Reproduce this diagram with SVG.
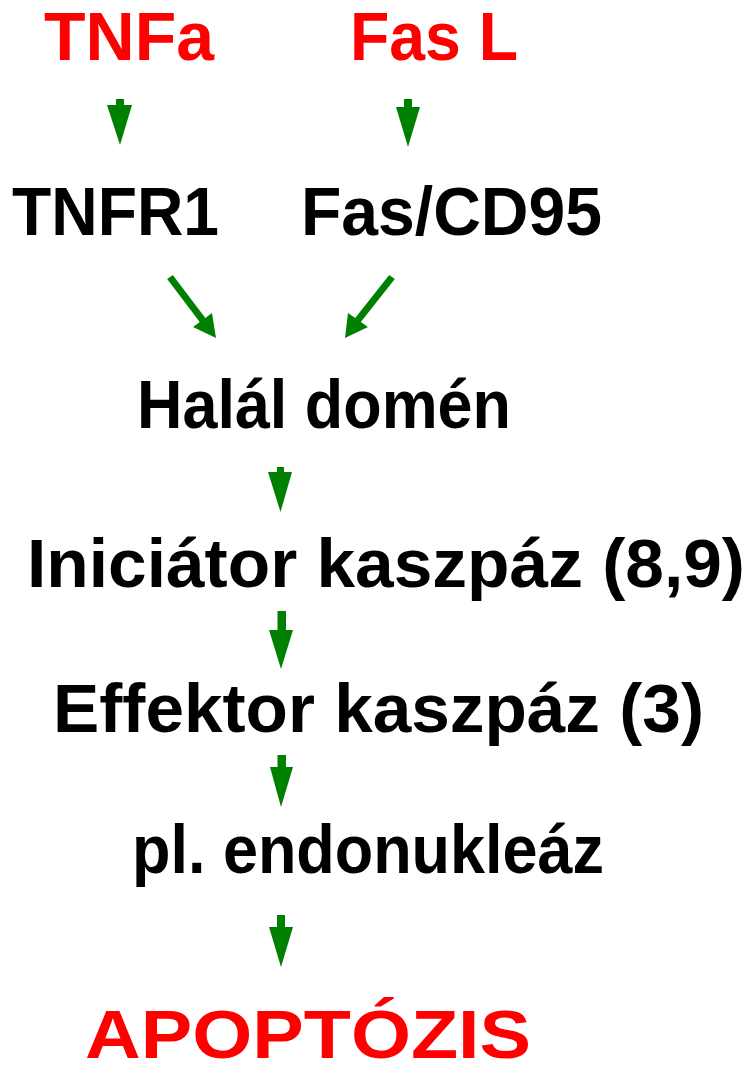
<svg xmlns="http://www.w3.org/2000/svg" width="748" height="1065" viewBox="0 0 748 1065">
<style>
text{font-family:"Liberation Sans","DejaVu Sans",Arial,sans-serif;font-weight:bold;font-size:68px;fill:#000}
.red{fill:#ff0000}
.arr{fill:#008000;stroke:none}
</style>
<rect width="748" height="1065" fill="#ffffff"/>
<g id="node-tnfa"><text class="red" x="44" y="60" textLength="170" lengthAdjust="spacingAndGlyphs">TNFa</text></g>
<g id="node-fasl"><text class="red" x="350" y="60" textLength="168" lengthAdjust="spacingAndGlyphs">Fas L</text></g>
<g id="node-tnfr1"><text x="12" y="235" textLength="207" lengthAdjust="spacingAndGlyphs">TNFR1</text></g>
<g id="node-fascd95"><text x="301" y="235" textLength="301" lengthAdjust="spacingAndGlyphs">Fas/CD95</text></g>
<g id="node-halal"><text x="137" y="428" textLength="374" lengthAdjust="spacingAndGlyphs">Halál domén</text></g>
<g id="node-iniciator"><text x="27" y="587" textLength="718" lengthAdjust="spacingAndGlyphs">Iniciátor kaszpáz (8,9)</text></g>
<g id="node-effektor"><text x="53" y="732" textLength="651" lengthAdjust="spacingAndGlyphs">Effektor kaszpáz (3)</text></g>
<g id="node-endonukleaz"><text x="132" y="873" textLength="472" lengthAdjust="spacingAndGlyphs">pl. endonukleáz</text></g>
<g id="node-apoptozis"><text class="red" x="85" y="1058" textLength="446" lengthAdjust="spacingAndGlyphs">APOPTÓZIS</text></g>
<g id="connectors">
<polygon class="arr" points="116,99 124,99 124,105 132,105 120,145 107,105 116,105"/>
<polygon class="arr" points="404,99 412,99 412,107 420,107 408,147 396,107 404,107"/>
<polygon class="arr" points="172.8,274.9 205.3,317.9 212,313 216,338 193,327 199.7,322.1 167.2,279.1"/>
<polygon class="arr" points="389.2,274.9 355.2,317.9 348,313 345,338 368,327 360.8,322.1 394.8,279.1"/>
<polygon class="arr" points="277,467 284,467 284,472 292,472 280.5,512 268,472 277,472"/>
<polygon class="arr" points="277.5,611 286,611 286,630 293,630 281,669 269,630 277.5,630"/>
<polygon class="arr" points="277.5,755 286,755 286,767 293,767 281,807 270,767 277.5,767"/>
<polygon class="arr" points="277,915 285,915 285,927 293,927 281,967 269,927 277,927"/>
</g>
</svg>
